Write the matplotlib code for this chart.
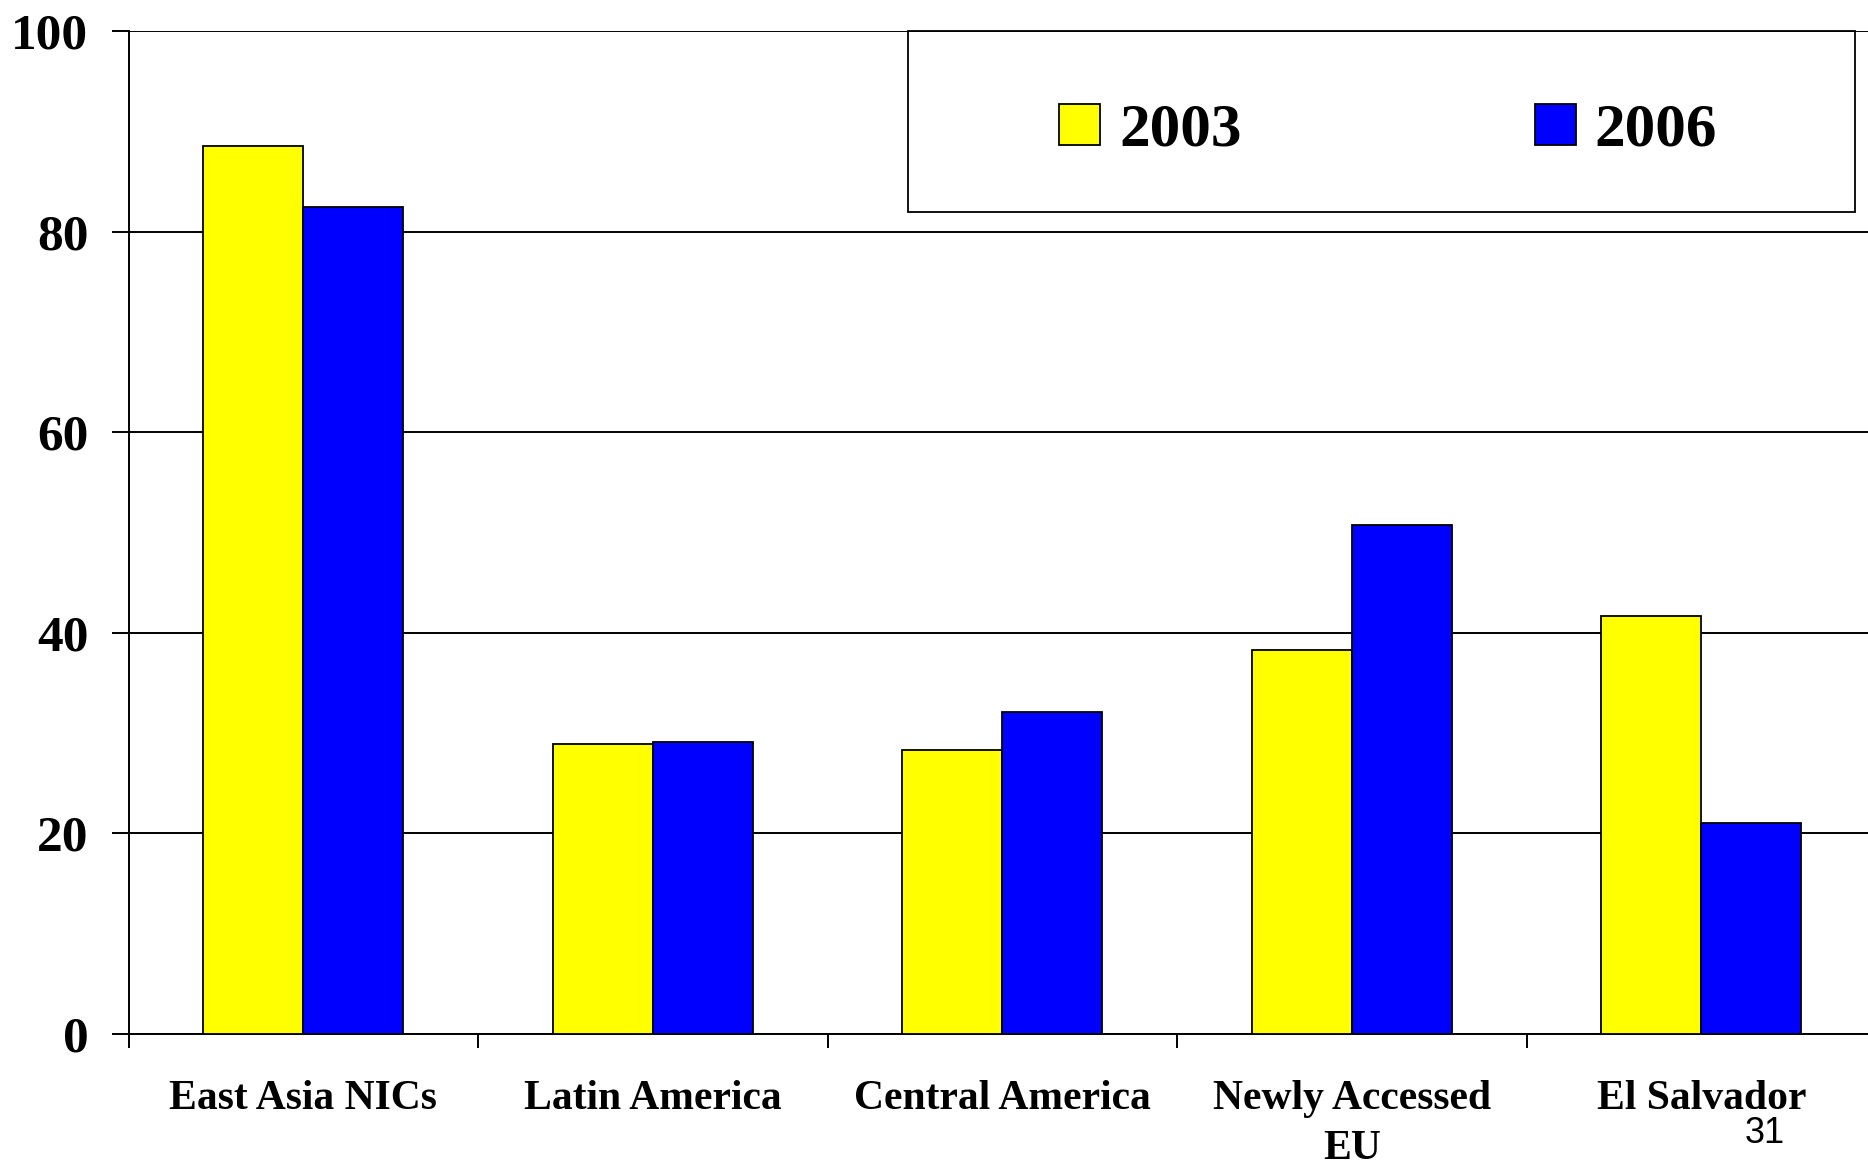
import numpy as np
import matplotlib.pyplot as plt
from matplotlib.patches import Rectangle

plt.rcParams['font.family'] = 'Liberation Serif'
plt.rcParams['font.weight'] = 'bold'

regions = ['East Asia NICs', 'Latin America', 'Central America', 'Newly Accessed\nEU', 'El Salvador']
years = ['2003', '2006']
val_2003 = [88.5, 28.9, 28.3, 38.3, 41.7]
val_2006 = [82.5, 29.1, 32.1, 50.7, 21.0]
yticks = [0, 20, 40, 60, 80, 100]

W, H = 1868, 1161
fig = plt.figure(figsize=(W/100, H/100), dpi=100)

# axes run slightly past the right edge, like the slide
ax = fig.add_axes([128.7/W, 1-1034/H, (1876-128.7)/W, (1034-31)/H])

x = np.arange(len(regions))
bw = 0.286
ax.bar(x-bw/2, val_2003, bw, color='#FFFF00', edgecolor='black', linewidth=1.3, label=years[0], zorder=3)
ax.bar(x+bw/2, val_2006, bw, color='#0000FF', edgecolor='black', linewidth=1.3, label=years[1], zorder=3)

ax.set_xlim(-0.5, len(regions)-0.5)
ax.set_ylim(0, 100)
ax.set_yticks(yticks)
ax.set_yticklabels([str(v) for v in yticks], fontsize=37, fontweight='bold')
ax.set_xticks(x)
ax.set_xticklabels(regions, fontsize=30, fontweight='bold', linespacing=1.42)
ax.set_xticks(np.arange(len(regions)+1)-0.5, minor=True)
ax.tick_params(axis='x', which='major', length=0, pad=33)
ax.tick_params(axis='x', which='minor', length=10, width=1.4, direction='out')
ax.tick_params(axis='y', length=12, width=1.4, pad=17, direction='out')

ax.grid(axis='y', color='black', linewidth=1.4, zorder=1)
ax.set_axisbelow(True)
for s in ['top', 'right']:
    ax.spines[s].set_visible(False)
for s in ['left', 'bottom']:
    ax.spines[s].set_linewidth(1.4)

# legend box
fig.patches.append(Rectangle((908/W, 1-212/H), (1855-908)/W, (212-31)/H,
                             transform=fig.transFigure, fill=False,
                             edgecolor='black', linewidth=1.3, zorder=5))
ax.legend(frameon=False, ncol=2, loc='center',
          bbox_to_anchor=(1388/W, 1-131/H), bbox_transform=fig.transFigure,
          prop={'family': 'Liberation Serif', 'weight': 'bold', 'size': 44},
          handlelength=0.67, handleheight=0.67, handletextpad=0.31,
          columnspacing=4.8, borderpad=0)

fig.text(1745/W, 1-1143/H, '31', fontsize=26, family='Liberation Sans',
         fontweight='normal', ha='left', va='baseline')

fig.savefig('out.png', dpi=100)
